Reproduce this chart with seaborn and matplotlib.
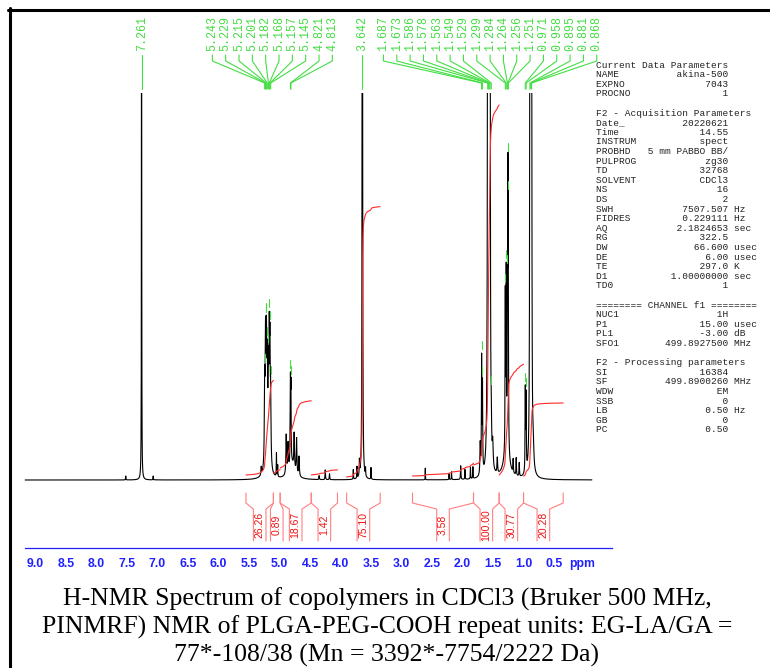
import numpy as np
import pandas as pd
import matplotlib.pyplot as plt
import seaborn as sns
from matplotlib.lines import Line2D
from matplotlib.patches import Rectangle

# -------------------
# Peak list (ppm, apparent height, half width)
# -------------------
peak_ppm = [7.52, 7.261, 7.07,
            5.30, 5.243, 5.229, 5.215, 5.201, 5.182, 5.168, 5.157, 5.145, 5.20,
            5.05, 5.03, 4.89, 4.86, 4.821, 4.813, 4.76, 4.72, 4.68, 4.80,
            4.35, 4.25, 4.18,
            3.79, 3.73, 3.69, 3.642, 3.59, 3.50,
            2.61, 2.22, 2.18, 2.03, 1.96, 1.87, 1.83,
            1.71, 1.687, 1.673, 1.586, 1.578, 1.563, 1.549, 1.529, 1.505, 1.43,
            1.299, 1.284, 1.264, 1.256, 1.251, 1.28,
            1.17, 1.12, 1.07,
            0.971, 0.958, 0.895, 0.881, 0.868, 0.84]
peak_height = [0.010, 1.6, 0.010,
               0.020, 0.20, 0.29, 0.26, 0.19, 0.19, 0.28, 0.26, 0.16, 0.08,
               0.060, 0.030, 0.10, 0.07, 0.20, 0.18, 0.09, 0.09, 0.05, 0.04,
               0.010, 0.025, 0.015,
               0.025, 0.030, 0.040, 3.0, 0.020, 0.030,
               0.030, 0.015, 0.020, 0.035, 0.025, 0.030, 0.030,
               0.08, 0.29, 0.22, 2.0, 1.5, 1.2, 1.5, 0.08, 0.06, 0.04,
               0.40, 0.44, 0.32, 0.53, 0.44, 0.06,
               0.035, 0.045, 0.035,
               0.21, 0.19, 1.2, 2.0, 1.2, 0.05]
peak_hwhm = [0.003, 0.0025, 0.003,
             0.005, 0.006, 0.006, 0.006, 0.006, 0.006, 0.006, 0.006, 0.006, 0.03,
             0.003, 0.003, 0.006, 0.006, 0.004, 0.004, 0.006, 0.006, 0.006, 0.06,
             0.004, 0.004, 0.004,
             0.003, 0.003, 0.004, 0.0035, 0.003, 0.003,
             0.002, 0.003, 0.003, 0.004, 0.003, 0.003, 0.003,
             0.006, 0.004, 0.004, 0.005, 0.005, 0.005, 0.005, 0.005, 0.008, 0.006,
             0.004, 0.004, 0.004, 0.004, 0.004, 0.06,
             0.004, 0.004, 0.004,
             0.004, 0.004, 0.005, 0.005, 0.005, 0.01]

# picked peaks, grouped as Bruker spreads their labels
label_groups = [[7.261],
                [5.243, 5.229, 5.215, 5.201, 5.182, 5.168, 5.157, 5.145, 4.821, 4.813],
                [3.642],
                [1.687, 1.673, 1.586, 1.578, 1.563, 1.549, 1.529, 1.299, 1.284,
                 1.264, 1.256, 1.251, 0.971, 0.958, 0.895, 0.881, 0.868]]

# integrals
integral_values = [26.26, 0.89, 18.67, 1.42, 75.10, 3.58, 100.00, 30.77, 20.28]
integral_left = [5.55, 5.10, 4.99, 4.48, 3.90, 2.82, 1.82, 1.40, 1.00]
integral_right = [5.10, 4.99, 4.48, 4.05, 3.35, 1.82, 1.40, 1.00, 0.35]
integral_start_px = [475, 473, 468, 475, 477, 476, 465, 475, 476]

# acquisition / processing parameters
param_lines = [
    ("Current Data Parameters", None, None),
    ("NAME", "akina-500", ""), ("EXPNO", "7043", ""), ("PROCNO", "1", ""),
    ("", None, None),
    ("F2 - Acquisition Parameters", None, None),
    ("Date_", "20220621", ""), ("Time", "14.55", ""), ("INSTRUM", "spect", ""),
    ("PROBHD", "5 mm PABBO BB/", ""), ("PULPROG", "zg30", ""), ("TD", "32768", ""),
    ("SOLVENT", "CDCl3", ""), ("NS", "16", ""), ("DS", "2", ""),
    ("SWH", "7507.507", "Hz"), ("FIDRES", "0.229111", "Hz"), ("AQ", "2.1824653", "sec"),
    ("RG", "322.5", ""), ("DW", "66.600", "usec"), ("DE", "6.00", "usec"),
    ("TE", "297.0", "K"), ("D1", "1.00000000", "sec"), ("TD0", "1", ""),
    ("", None, None),
    ("======== CHANNEL f1 ========", None, None),
    ("NUC1", "1H", ""), ("P1", "15.00", "usec"), ("PL1", "-3.00", "dB"),
    ("SFO1", "499.8927500", "MHz"),
    ("", None, None),
    ("F2 - Processing parameters", None, None),
    ("SI", "16384", ""), ("SF", "499.8900260", "MHz"), ("WDW", "EM", ""),
    ("SSB", "0", ""), ("LB", "0.50", "Hz"), ("GB", "0", ""), ("PC", "0.50", ""),
]

caption = ["H-NMR Spectrum of copolymers in CDCl3 (Bruker 500 MHz,",
           "PINMRF) NMR of PLGA-PEG-COOH repeat units: EG-LA/GA =",
           "77*-108/38 (Mn = 3392*-7754/2222 Da)"]

# %%
# -------------------
# Build spectrum
# -------------------
ppm = np.arange(-0.12, 9.17, 0.0005)
spec = np.zeros_like(ppm)
for p, h, w in zip(peak_ppm, peak_height, peak_hwhm):
    spec += h / (1 + ((ppm - p) / w) ** 2)
df_spec = pd.DataFrame({"ppm": ppm, "intensity": spec})

# pixel layout helpers (baseline at 480 px, clip at 93 px)
W, H = 770, 668
PX_PER_UNIT = 390.0
PX_PER_PPM = 61.0


def py(pix):
    return (480 - pix) / PX_PER_UNIT


def dppm(pix):
    return pix / PX_PER_PPM


sns.set_style("white")
plt.rcParams['font.family'] = ['Liberation Sans', 'DejaVu Sans']

fig = plt.figure(figsize=(W / 100, H / 100), dpi=100)
ax = fig.add_axes([25 / W, 1 - 548 / H, 587 / W, 538 / H])
ax.set_xlim(9.172, -0.45)
ax.set_ylim(py(548), py(10))

sns.lineplot(data=df_spec, x="ppm", y="intensity", ax=ax, color="black",
             lw=0.8, sort=False, estimator=None)
clip = Rectangle((9.3, py(600)), -9.5, py(93) - py(600), transform=ax.transData)
for ln in ax.lines:
    ln.set_clip_path(clip)

# integrals
int_scale = 3.6 / PX_PER_UNIT
for val, xl, xr, start in zip(integral_values, integral_left, integral_right, integral_start_px):
    m = (ppm <= xl) & (ppm >= xr)
    xs = ppm[m][::-1]
    cum = np.cumsum(spec[m][::-1])
    ys = py(start) + cum / cum[-1] * val * int_scale
    ax.plot(xs, ys, color="#ff2a2a", lw=0.8)

    c = (xl + xr) / 2
    d = dppm(6.3)
    kw = dict(color="#ff8080", lw=0.8, clip_on=False)
    ax.plot([xl, xl, c + d, c + d], [py(493), py(503), py(509), py(541)], **kw)
    ax.plot([xr, xr, c - d, c - d], [py(493), py(503), py(509), py(541)], **kw)
    ax.text(c, py(525), f"{val:.2f}", rotation=90, ha="center", va="center",
            color="#ee1111", fontsize=7.5, clip_on=False)

# peak labels
spacing = dppm(13.33)
right_limit = -0.2
for grp in label_groups:
    n = len(grp)
    center = np.mean(grp)
    pos = center + spacing * ((n - 1) / 2 - np.arange(n))
    if pos[-1] < right_limit:
        pos = pos + (right_limit - pos[-1])
    for lx, p in zip(pos, grp):
        ax.plot([lx, lx, p, p], [py(55), py(61), py(83), py(89)], color="#44dd44",
                lw=0.8, clip_on=False)
        ax.text(lx, py(51), f"{p:.3f}", rotation=90, ha="center", va="bottom",
                color="#44dd44", fontsize=8.4, family="Liberation Mono", clip_on=False)
        hp = np.interp(p, ppm, spec)
        if hp < py(105):
            ax.plot([p, p], [hp + 4 / PX_PER_UNIT, hp + 12 / PX_PER_UNIT],
                    color="#44dd44", lw=0.8)

# bottom ppm axis
for s in ["top", "left", "right"]:
    ax.spines[s].set_visible(False)
ax.spines["bottom"].set_color("#2020ff")
ax.spines["bottom"].set_linewidth(0.9)
major = np.arange(9.0, -0.01, -0.5)
ax.set_xticks(major)
ax.set_xticklabels([f"{t:.1f}" if t > 0.1 else "" for t in major])
ax.set_xticks(np.arange(9.1, -0.45, -0.1), minor=True)
ax.tick_params(axis="x", which="major", direction="out", length=4, width=0.8,
               color="#2020ff", labelcolor="#2020ff", labelsize=8.8, pad=3.5)
ax.tick_params(axis="x", which="minor", direction="out", length=2, width=0.6,
               color="#2020ff")
for t in ax.get_xticklabels():
    t.set_fontweight("bold")
ax.set_yticks([])
ax.set_xlabel("")
ax.set_ylabel("")
ax.text(0.04, py(564), "ppm", ha="center", va="center", color="#2020ff",
        fontsize=8.8, fontweight="bold", clip_on=False)

# parameter panel
for i, (lab, val, unit) in enumerate(param_lines):
    if val is None:
        txt = lab
    else:
        txt = f"{lab:<8}{val:>15}" + (f" {unit}" if unit else "")
    fig.text(596 / W, 1 - (65 + i * 9.6) / H, txt, family="Liberation Mono",
             fontsize=6.8, color="#222222", va="center", ha="left")

# caption
for i, row in enumerate(caption):
    fig.text(387 / W, 1 - (606 + i * 28) / H, row, family="Liberation Serif",
             fontsize=18.5, color="black", ha="center", va="baseline")

# frame
fig.add_artist(Line2D([8 / W, 1], [1 - 9.5 / H, 1 - 9.5 / H], color="black", lw=2.2))
fig.add_artist(Line2D([9.5 / W, 9.5 / W], [0, 1 - 8 / H], color="black", lw=2.2))

fig.savefig("out.png", dpi=100)
